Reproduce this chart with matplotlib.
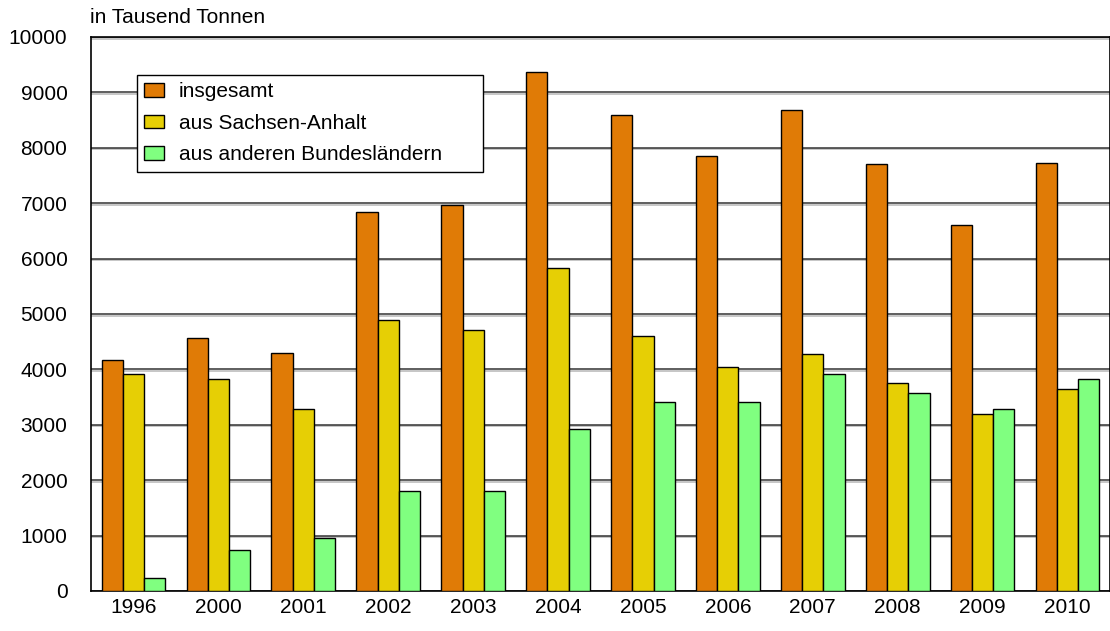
import matplotlib.pyplot as plt
import matplotlib.patheffects as pe
import numpy as np

plt.rcParams["font.family"] = ["Liberation Sans", "DejaVu Sans"]

# Werte in Tausend Tonnen
jahre = ["1996", "2000", "2001", "2002", "2003", "2004",
         "2005", "2006", "2007", "2008", "2009", "2010"]
insgesamt = [4170, 4570, 4300, 6840, 6970, 9370, 8590, 7850, 8680, 7700, 6610, 7720]
sachsen_anhalt = [3920, 3820, 3285, 4890, 4710, 5830, 4600, 4035, 4270, 3760, 3190, 3640]
andere_laender = [240, 745, 960, 1810, 1805, 2925, 3410, 3405, 3920, 3570, 3285, 3820]

serien = [
    ("insgesamt", insgesamt, "#E07B06"),
    ("aus Sachsen-Anhalt", sachsen_anhalt, "#E6CF05"),
    ("aus anderen Bundesländern", andere_laender, "#80FF80"),
]

fs = 15

fig = plt.figure(figsize=(11.10, 6.31), dpi=100)
ax = fig.add_axes([0.082, 0.0634, 0.918, 0.878])

x = np.arange(len(jahre))
breite = 0.25
for i, (name, werte, farbe) in enumerate(serien):
    ax.bar(x + (i - 1) * breite, werte, breite, color=farbe,
           edgecolor="black", linewidth=1.0, label=name, zorder=3)

ax.set_xlim(-0.5, len(jahre) - 0.5)
ax.set_ylim(0, 10000)
ax.set_yticks(np.arange(0, 10001, 1000))
ax.set_xticks(x)
ax.set_xticklabels(jahre)
ax.tick_params(axis="both", length=0, labelsize=fs)
ax.tick_params(axis="x", pad=5)
ax.tick_params(axis="y", pad=17)

# Gitterlinien mit leichtem Schatten
ax.yaxis.grid(True, color="#333333", linewidth=1.1, zorder=0,
              path_effects=[pe.SimpleLineShadow(offset=(0, -1.2), shadow_color="#999999", alpha=0.7),
                            pe.Normal()])
ax.set_axisbelow(True)
for sp in ax.spines.values():
    sp.set_linewidth(1.2)
    sp.set_color("black")

leg = ax.legend(loc="upper left", bbox_to_anchor=(0.0451, 0.0, 0.3396, 0.9314),
                mode="expand", borderaxespad=0,
                fontsize=fs, frameon=True, fancybox=False, framealpha=1,
                edgecolor="black", handlelength=0.96, handleheight=0.6,
                handletextpad=0.7, labelspacing=0.6, borderpad=0.35)
leg.get_frame().set_linewidth(1.0)
leg.set_zorder(5)

fig.text(0.081, 0.972, "in Tausend Tonnen", fontsize=fs, ha="left", va="center")

fig.savefig("out.png", dpi=100)
